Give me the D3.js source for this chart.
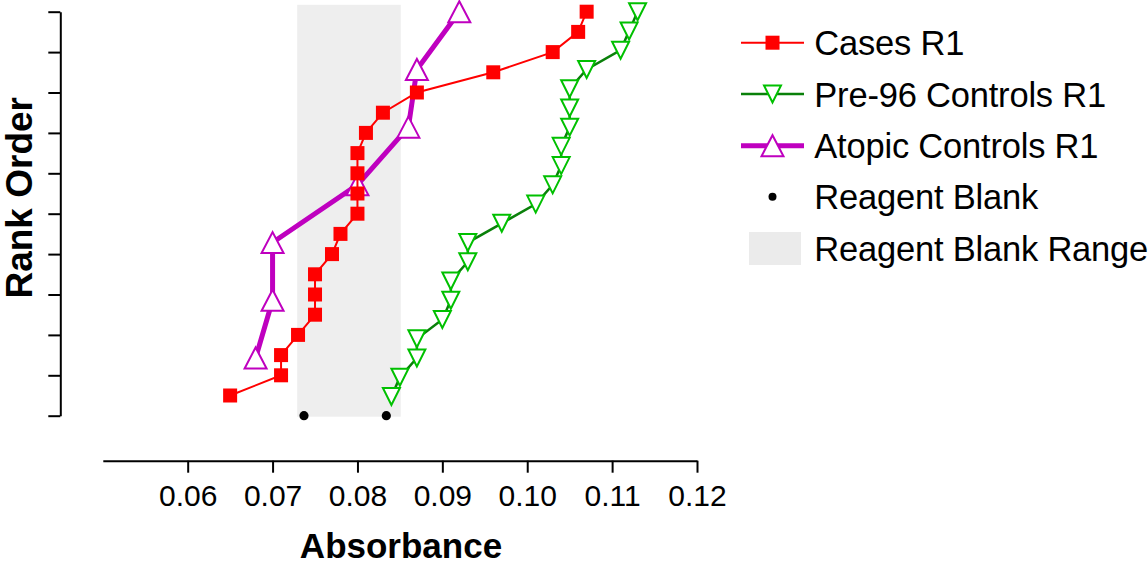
<!DOCTYPE html>
<html>
<head>
<meta charset="utf-8">
<script src="https://cdn.jsdelivr.net/npm/d3@7"></script>
<style>
  body { margin: 0; background: #fff; }
  svg { display: block; font-family: "Liberation Sans", Arial, sans-serif; }
</style>
</head>
<body>
<svg id="chart" width="1148" height="564"></svg>
<script>
'use strict'

// absorbance values, sorted; rank order is (i+1)/n*100
var cases = [0.065, 0.071, 0.071, 0.073, 0.075, 0.075, 0.075, 0.077, 0.078, 0.080,
             0.080, 0.080, 0.080, 0.081, 0.083, 0.087, 0.096, 0.103, 0.106, 0.107];
var pre96 = [0.084, 0.085, 0.087, 0.087, 0.090, 0.091, 0.091, 0.093, 0.093, 0.097, 0.101,
             0.103, 0.104, 0.104, 0.105, 0.105, 0.105, 0.107, 0.111, 0.112, 0.113];
var atopic = [0.068, 0.070, 0.070, 0.080, 0.086, 0.087, 0.092];
var blanks = [0.0737, 0.0834];
var blankRange = [0.0729, 0.0851];
var xTicks = [0.06, 0.07, 0.08, 0.09, 0.10, 0.11, 0.12];
var yTicks = [0, 10, 20, 30, 40, 50, 60, 70, 80, 90, 100];
var legendLabels = ["Cases R1", "Pre-96 Controls R1", "Atopic Controls R1", "Reagent Blank", "Reagent Blank Range"];

var svg = d3.select("#chart");

var x = d3.scaleLinear().domain([0.05, 0.12]).range([102.8, 697]);
var y = d3.scaleLinear().domain([0, 100]).range([415.7, 11.7]);

function ranked(vals){
    return vals.map(function(v, i){ return {v: v, r: (i + 1) / vals.length * 100}; });
}

// triangle centred on its bounding box
function tri(w, h, down){
    if(down)
        return "M" + (-w/2) + "," + (-h/2) + "L" + (w/2) + "," + (-h/2) + "L0," + (h/2) + "Z";
    return "M" + (-w/2) + "," + (h/2) + "L" + (w/2) + "," + (h/2) + "L0," + (-h/2) + "Z";
}

// reagent blank range
svg.append("rect")
    .attr("x", x(blankRange[0]))
    .attr("width", x(blankRange[1]) - x(blankRange[0]))
    .attr("y", y(101.7))
    .attr("height", y(-0.25) - y(101.7))
    .attr("fill", "#eeeeee");

// axes
var xAxis = svg.append("g")
    .attr("transform", "translate(0,460.7)")
    .call(d3.axisBottom(x).tickValues(xTicks).tickFormat(d3.format(".2f")).tickSize(12).tickSizeOuter(0).tickPadding(12));
xAxis.selectAll("path, line").attr("stroke", "#000").attr("stroke-width", 2);
xAxis.selectAll("text").attr("font-size", 30).attr("fill", "#000")
    .attr("font-family", "Liberation Sans, Arial, sans-serif");

var yAxis = svg.append("g")
    .attr("transform", "translate(60.3,0)")
    .call(d3.axisLeft(y).tickValues(yTicks).tickFormat("").tickSize(12).tickSizeOuter(0));
yAxis.selectAll("path, line").attr("stroke", "#000").attr("stroke-width", 2);

svg.append("text")
    .attr("x", 401).attr("y", 558)
    .attr("text-anchor", "middle")
    .attr("font-size", 35).attr("font-weight", "bold")
    .text("Absorbance");

svg.append("text")
    .attr("transform", "translate(32.3,197.8) rotate(-90)")
    .attr("text-anchor", "middle")
    .attr("font-size", 37).attr("font-weight", "bold")
    .text("Rank Order");

var line = d3.line().x(function(d){ return x(d.v); }).y(function(d){ return y(d.r); });

// reagent blank points
svg.selectAll(".blank").data(blanks).enter().append("circle")
    .attr("class", "blank")
    .attr("cx", function(d){ return x(d); })
    .attr("cy", y(0))
    .attr("r", 4.6)
    .attr("fill", "#000");

// atopic controls
svg.append("path").datum(ranked(atopic))
    .attr("d", line).attr("fill", "none")
    .attr("stroke", "#bf00bf").attr("stroke-width", 5);
svg.selectAll(".atopic").data(ranked(atopic)).enter().append("path")
    .attr("class", "atopic")
    .attr("transform", function(d){ return "translate(" + x(d.v) + "," + y(d.r) + ")"; })
    .attr("d", tri(22, 21, false))
    .attr("fill", "#fff").attr("stroke", "#bf00bf").attr("stroke-width", 2);

// pre-96 controls
svg.append("path").datum(ranked(pre96))
    .attr("d", line).attr("fill", "none")
    .attr("stroke", "#0a800a").attr("stroke-width", 2.5);
svg.selectAll(".pre96").data(ranked(pre96)).enter().append("path")
    .attr("class", "pre96")
    .attr("transform", function(d){ return "translate(" + x(d.v) + "," + y(d.r) + ")"; })
    .attr("d", tri(17, 17, true))
    .attr("fill", "#fff").attr("stroke", "#00c000").attr("stroke-width", 2);

// cases
svg.append("path").datum(ranked(cases))
    .attr("d", line).attr("fill", "none")
    .attr("stroke", "#ff0000").attr("stroke-width", 2);
svg.selectAll(".cases").data(ranked(cases)).enter().append("rect")
    .attr("class", "cases")
    .attr("x", function(d){ return x(d.v) - 7; })
    .attr("y", function(d){ return y(d.r) - 7; })
    .attr("width", 14).attr("height", 14)
    .attr("fill", "#ff0000");

// legend
var lg = svg.append("g");
var rowY = [42.7, 94, 145.7, 196.7, 248.5];
var lx0 = 741, lx1 = 804, lmid = 772.5;

lg.append("line").attr("x1", lx0).attr("x2", lx1).attr("y1", rowY[0]).attr("y2", rowY[0])
    .attr("stroke", "#ff0000").attr("stroke-width", 2);
lg.append("rect").attr("x", lmid - 7).attr("y", rowY[0] - 7).attr("width", 14).attr("height", 14)
    .attr("fill", "#ff0000");

lg.append("line").attr("x1", lx0).attr("x2", lx1).attr("y1", rowY[1]).attr("y2", rowY[1])
    .attr("stroke", "#0a800a").attr("stroke-width", 2.5);
lg.append("path").attr("transform", "translate(" + lmid + "," + rowY[1] + ")")
    .attr("d", tri(17, 17, true)).attr("fill", "#fff").attr("stroke", "#00c000").attr("stroke-width", 2);

lg.append("line").attr("x1", lx0).attr("x2", lx1).attr("y1", rowY[2]).attr("y2", rowY[2])
    .attr("stroke", "#bf00bf").attr("stroke-width", 5);
lg.append("path").attr("transform", "translate(" + lmid + "," + rowY[2] + ")")
    .attr("d", tri(22, 21, false)).attr("fill", "#fff").attr("stroke", "#bf00bf").attr("stroke-width", 2);

lg.append("circle").attr("cx", lmid).attr("cy", rowY[3]).attr("r", 4).attr("fill", "#000");

lg.append("rect").attr("x", 749).attr("y", rowY[4] - 16.5).attr("width", 52).attr("height", 33)
    .attr("fill", "#ebebeb");

lg.selectAll(".ltxt").data(legendLabels).enter().append("text")
    .attr("class", "ltxt")
    .attr("x", 814.3)
    .attr("y", function(d, i){ return rowY[i] + 12.5; })
    .attr("font-size", 34.5)
    .attr("letter-spacing", -0.2)
    .attr("fill", "#000")
    .text(function(d){ return d; });
</script>
</body>
</html>
